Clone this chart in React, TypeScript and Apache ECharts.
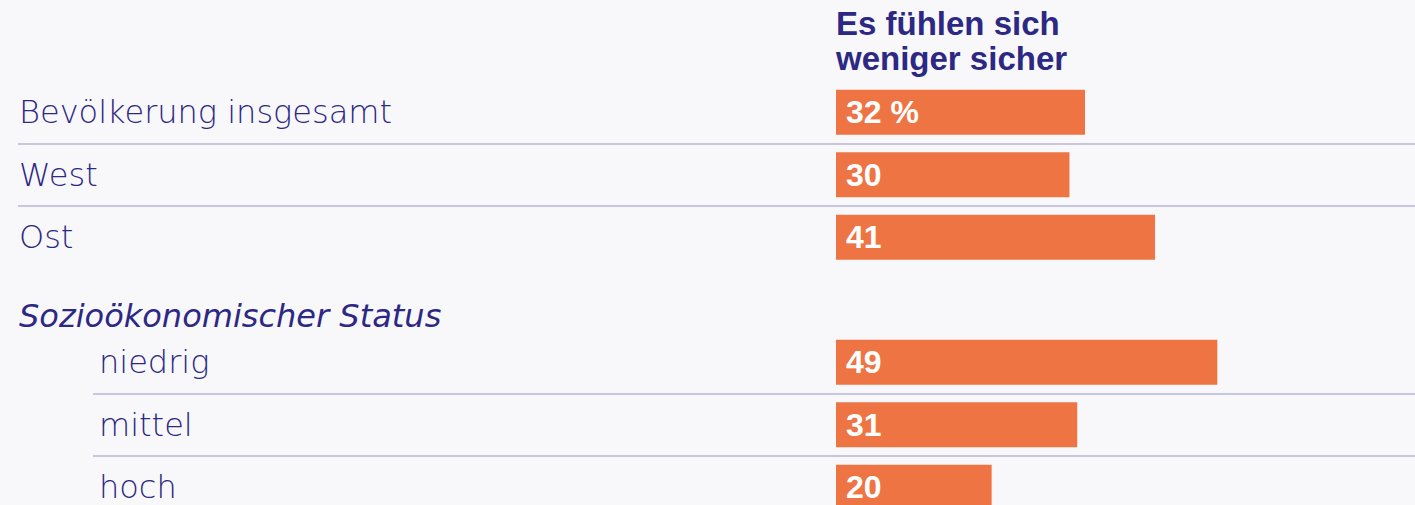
import React, { useEffect, useRef } from "react";
import * as echarts from "echarts";

// ---- data ----
const categories: string[] = [
  "Bevölkerung insgesamt",
  "West",
  "Ost",
  "Sozioökonomischer Status",
  "niedrig",
  "mittel",
  "hoch",
];
const values: (number | null)[] = [32, 30, 41, null, 49, 31, 20];
const headingIndex = 3; // group heading row (no bar)
const subStart = 4; // first indented sub-row
const mainRules = [1, 2]; // separators before these rows (full width)
const subRules = [5, 6]; // separators before these rows (indented)
const titleLines: string[] = ["Es fühlen sich", "weniger sicher"];
const unitSuffix = " %";
const axisMax = 74.4;

// ---- style ----
const NAVY = "#2c2884";
const ORANGE = "#ee7444";
const RULE = "#b9b7d6";
const BG = "#f8f8fa";
const LABEL_FONT = "'DejaVu Sans', sans-serif";
const BOLD_FONT = "'Liberation Sans', Arial, sans-serif";

const TOP = 81;
const ROW = 62.5;
const HEIGHT = ROW * categories.length;
const CANVAS_H = 522;

export default function App() {
  const ref = useRef<HTMLDivElement>(null);

  useEffect(() => {
    document.body.style.margin = "0";
    document.body.style.background = BG;
    document.body.style.overflow = "hidden";
    document.documentElement.style.overflow = "hidden";
    const chart = echarts.init(ref.current!, null, { renderer: "svg" });

    const baseY = {
      type: "category",
      data: categories,
      inverse: true,
      axisLine: { show: false },
      axisTick: { show: false },
    };
    const labelStyle = {
      color: NAVY,
      fontFamily: LABEL_FONT,
      fontSize: 32,
      fontWeight: 200,
    };

    chart.setOption({
      animation: false,
      backgroundColor: BG,
      title: {
        text: titleLines.join("\n"),
        left: 836,
        top: 6,
        padding: 0,
        textStyle: {
          color: NAVY,
          fontFamily: BOLD_FONT,
          fontWeight: "bold",
          fontSize: 33,
          lineHeight: 35,
        },
      },
      grid: [
        { left: 18, right: 0, top: TOP, height: HEIGHT },
        { left: 93, right: 0, top: TOP, height: HEIGHT },
        { left: 836, right: 0, top: TOP, height: HEIGHT },
      ],
      xAxis: [
        { gridIndex: 0, type: "value", min: 0, max: 1, show: false },
        { gridIndex: 1, type: "value", min: 0, max: 1, show: false },
        { gridIndex: 2, type: "value", min: 0, max: axisMax, show: false },
      ],
      yAxis: [
        {
          ...baseY,
          gridIndex: 0,
          splitLine: {
            show: true,
            interval: (i: number) => mainRules.indexOf(i) >= 0,
            lineStyle: { color: RULE, width: 1.5 },
          },
          axisLabel: {
            ...labelStyle,
            inside: true,
            margin: 1,
            interval: 0,
            formatter: (v: string, i: number) =>
              i >= subStart ? "" : i === headingIndex ? `{it|${v}}` : v,
            rich: {
              it: {
                ...labelStyle,
                fontStyle: "italic",
                padding: [33, 0, 0, 0],
              },
            },
          },
        },
        {
          ...baseY,
          gridIndex: 1,
          splitLine: {
            show: true,
            interval: (i: number) => subRules.indexOf(i) >= 0,
            lineStyle: { color: RULE, width: 1.5 },
          },
          axisLabel: {
            ...labelStyle,
            inside: true,
            margin: 6,
            interval: 0,
            formatter: (v: string, i: number) => (i >= subStart ? v : ""),
          },
        },
        { ...baseY, gridIndex: 2, show: false },
      ],
      series: [
        {
          type: "bar",
          xAxisIndex: 2,
          yAxisIndex: 2,
          data: values,
          barWidth: 45,
          itemStyle: { color: ORANGE },
          label: {
            show: true,
            position: "insideLeft",
            distance: 10,
            color: "#ffffff",
            fontFamily: BOLD_FONT,
            fontWeight: "bold",
            fontSize: 32,
            formatter: (p: any) =>
              p.dataIndex === 0 ? `${p.value}${unitSuffix}` : `${p.value}`,
          },
        },
      ],
    });

    return () => chart.dispose();
  }, []);

  return (
    <div
      ref={ref}
      style={{ position: "absolute", left: 0, top: 0, width: 1415, height: CANVAS_H }}
    />
  );
}
